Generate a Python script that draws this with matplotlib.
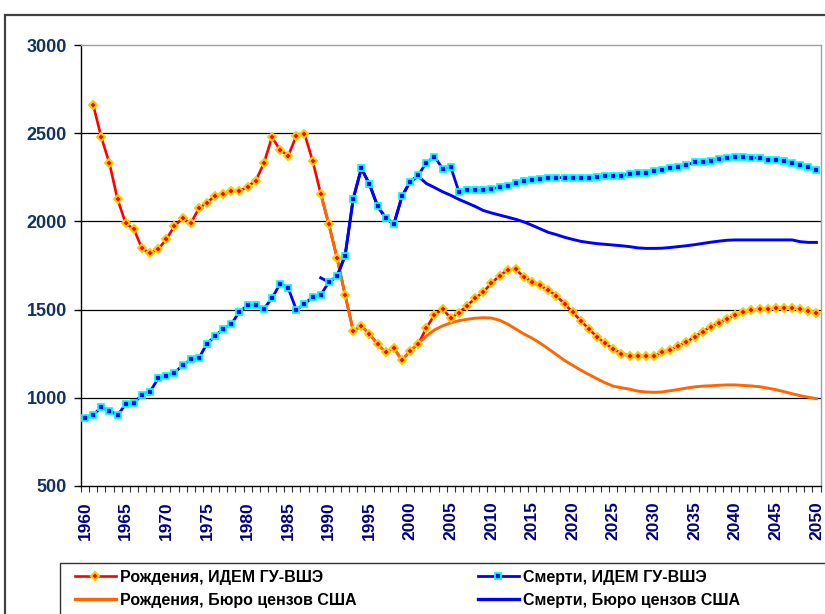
import numpy as np
import matplotlib
matplotlib.use("Agg")
from matplotlib import pyplot as plt
from matplotlib.lines import Line2D
from matplotlib.patches import Rectangle

plt.rcParams['font.family'] = ['Liberation Sans', 'DejaVu Sans']

# births, IDEM HSE (thousands), 1961-2050
births_idem_years = np.arange(1961, 2051)
births_idem = [
    2660, 2477, 2329, 2125, 1989, 1957, 1847, 1819, 1842,              # 1961-69
    1899, 1974, 2018, 1989, 2074, 2106, 2146, 2155, 2172, 2172,        # 1970-79
    2197, 2231, 2329, 2477, 2405, 2371, 2486, 2497, 2344, 2157,        # 1980-89
    1983, 1794, 1583, 1379, 1407, 1362, 1303, 1258, 1281, 1214,        # 1990-99
    1265, 1305, 1396, 1471, 1503, 1452, 1482, 1522, 1564, 1600,        # 2000-09
    1649, 1692, 1724, 1728, 1685, 1658, 1637, 1610, 1578, 1532,        # 2010-19
    1485, 1437, 1390, 1345, 1309, 1277, 1250, 1239, 1237, 1237,        # 2020-29
    1235, 1258, 1271, 1294, 1316, 1346, 1375, 1403, 1426, 1448,        # 2030-39
    1467, 1485, 1496, 1502, 1502, 1509, 1509, 1509, 1502, 1492,        # 2040-49
    1483,                                                              # 2050
]

# deaths, IDEM HSE (thousands), 1960-2050
deaths_idem_years = np.arange(1960, 2051)
deaths_idem = [
    887, 904, 946, 927, 902, 963, 969, 1018, 1035, 1110,               # 1960-69
    1125, 1142, 1184, 1218, 1224, 1307, 1349, 1392, 1418, 1488,        # 1970-79
    1524, 1524, 1505, 1564, 1647, 1622, 1498, 1533, 1570, 1583,        # 1980-89
    1656, 1688, 1806, 2129, 2301, 2210, 2086, 2019, 1985, 2142,        # 1990-99
    2225, 2261, 2333, 2367, 2299, 2308, 2168, 2176, 2176, 2176,        # 2000-09
    2185, 2193, 2202, 2219, 2227, 2233, 2240, 2248, 2248, 2248,        # 2010-19
    2248, 2248, 2248, 2250, 2259, 2259, 2259, 2269, 2276, 2276,        # 2020-29
    2286, 2293, 2301, 2310, 2320, 2335, 2335, 2342, 2352, 2357,        # 2030-39
    2367, 2367, 2360, 2360, 2350, 2350, 2341, 2333, 2318, 2308,        # 2040-49
    2291,                                                              # 2050
]

# US Census Bureau, 1989-2050
census_years = np.arange(1989, 2051)
births_census = [
    2157,                                                              # 1989
    1983, 1794, 1583, 1379, 1407, 1362, 1303, 1258, 1281, 1214,        # 1990-99
    1265, 1309, 1350, 1385, 1408, 1425, 1437, 1445, 1451, 1454,        # 2000-09
    1452, 1440, 1418, 1390, 1362, 1338, 1310, 1278, 1245, 1212,        # 2010-19
    1184, 1157, 1132, 1108, 1085, 1066, 1057, 1049, 1038, 1033,        # 2020-29
    1031, 1033, 1040, 1047, 1055, 1062, 1066, 1068, 1071, 1073,        # 2030-39
    1073, 1070, 1067, 1063, 1055, 1046, 1035, 1023, 1012, 1003,        # 2040-49
    995,                                                               # 2050
]
deaths_census = [
    1680,                                                              # 1989
    1656, 1688, 1806, 2129, 2301, 2210, 2086, 2019, 1985, 2142,        # 1990-99
    2225, 2255, 2215, 2192, 2168, 2148, 2125, 2105, 2085, 2062,        # 2000-09
    2048, 2036, 2024, 2012, 1997, 1978, 1958, 1938, 1925, 1910,        # 2010-19
    1898, 1887, 1880, 1874, 1870, 1866, 1862, 1857, 1850, 1847,        # 2020-29
    1847, 1848, 1852, 1857, 1862, 1868, 1875, 1882, 1888, 1893,        # 2030-39
    1895, 1895, 1895, 1895, 1895, 1895, 1895, 1895, 1885, 1881,        # 2040-49
    1881,                                                              # 2050
]

labels = ["Рождения, ИДЕМ ГУ-ВШЭ", "Смерти, ИДЕМ ГУ-ВШЭ",
          "Рождения, Бюро цензов США", "Смерти, Бюро цензов США"]

RED, GOLD = '#FF0000', '#FFCC00'
BLUE, CYAN = '#0000FF', '#00FFFF'
ORANGE = '#FF6600'

fig = plt.figure(figsize=(8.25, 6.14), dpi=100)
W, H = 825., 614.
ax = fig.add_axes([81/W, 1-486/H, (820.5-81)/W, (486-45)/H])

# lines first, census lines on top, IDEM markers on top of everything
ax.plot(births_idem_years, births_idem, color=RED, lw=1.9, zorder=2)
ax.plot(deaths_idem_years, deaths_idem, color=BLUE, lw=2.0, zorder=2)
ax.plot(census_years, births_census, color=ORANGE, lw=2.1, zorder=3)
ax.plot(census_years, deaths_census, color=BLUE, lw=2.1, zorder=3)
ax.plot(births_idem_years, births_idem, ls='none', marker='D', ms=3.9,
        mfc=RED, mec=GOLD, mew=1.5, zorder=4)
ax.plot(deaths_idem_years, deaths_idem, ls='none', marker='s', ms=5.0,
        mfc=BLUE, mec=CYAN, mew=1.3, zorder=4)

ax.set_xlim(1959.5, 2050.5)
ax.set_ylim(500, 3000)

yt = np.arange(500, 3001, 500)
ax.set_yticks(yt)
ax.set_yticklabels([str(v) for v in yt], fontsize=13, fontweight='bold',
                   color='#12325F')
for v in yt[1:-1]:
    ax.axhline(v, color='black', lw=0.9, zorder=1)

xt = np.arange(1960, 2051, 5)
ax.set_xticks(xt)
ax.set_xticklabels([str(v) for v in xt], rotation=90, fontsize=12.5,
                   fontweight='bold', color='#000080')
ax.set_xticks(np.arange(1959.5, 2051, 1), minor=True)
ax.tick_params(axis='x', which='major', length=0, pad=11)
ax.tick_params(axis='x', which='minor', length=4, width=0.8, direction='out', color='#333333')
ax.tick_params(axis='y', length=5, width=1, direction='out', pad=5)

for s in ('left', 'bottom'):
    ax.spines[s].set_color('black')
    ax.spines[s].set_linewidth(1.0)
for s in ('top', 'right'):
    ax.spines[s].set_color('#A0A0A0')
    ax.spines[s].set_linewidth(1.0)

# outer chart frame and legend box (both run off the picture)
fig.add_artist(Rectangle((5/W, -0.2), 1.2, 0.2 + (1-15/H), transform=fig.transFigure,
                         fill=False, ec='#404040', lw=1.6, clip_on=False))
fig.add_artist(Rectangle((60/W, -0.2), 1.2, 0.2 + (1-563/H), transform=fig.transFigure,
                         fill=False, ec='#333333', lw=1.0, clip_on=False))

h_bi = Line2D([], [], color=RED, lw=1.9, marker='D', ms=3.9, mfc=RED, mec=GOLD, mew=1.5)
h_di = Line2D([], [], color=BLUE, lw=2.0, marker='s', ms=5.0, mfc=BLUE, mec=CYAN, mew=1.3)
h_bc = Line2D([], [], color=ORANGE, lw=2.4)
h_dc = Line2D([], [], color=BLUE, lw=2.4)

leg_kw = dict(loc='upper left', frameon=False, borderpad=0, borderaxespad=0,
              handlelength=2.55, handletextpad=0.25, labelspacing=0.5,
              numpoints=1, prop=dict(size=11.5, weight='bold'))
fig.legend([h_bi, h_bc], [labels[0], labels[2]],
           bbox_to_anchor=(75/W, 1-570/H), **leg_kw)
fig.legend([h_di, h_dc], [labels[1], labels[3]],
           bbox_to_anchor=(478/W, 1-570/H), **leg_kw)

plt.savefig('out.png', dpi=100)
